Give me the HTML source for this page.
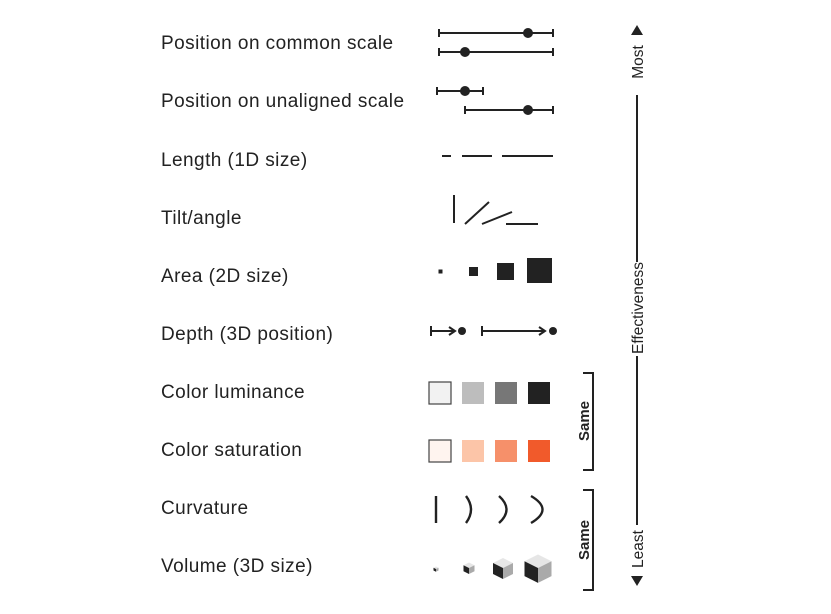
<!DOCTYPE html>
<html><head><meta charset="utf-8"><style>body{margin:0;background:#fff}svg{display:block}text{font-family:"Liberation Sans",sans-serif;fill:#222}</style></head>
<body>
<svg width="831" height="614" viewBox="0 0 831 614">
<g font-size="19" letter-spacing="0.45">
<text x="161" y="49">Position on common scale</text>
<text x="161" y="107">Position on unaligned scale</text>
<text x="161" y="166">Length (1D size)</text>
<text x="161" y="224">Tilt/angle</text>
<text x="161" y="282">Area (2D size)</text>
<text x="161" y="340">Depth (3D position)</text>
<text x="161" y="398">Color luminance</text>
<text x="161" y="456">Color saturation</text>
<text x="161" y="514">Curvature</text>
<text x="161" y="572">Volume (3D size)</text>
</g>
<g stroke="#222" stroke-width="2" fill="#222">
<line x1="439" y1="33" x2="553" y2="33"/><line x1="439" y1="29" x2="439" y2="37"/><line x1="553" y1="29" x2="553" y2="37"/><circle cx="528" cy="33" r="4"/>
<line x1="439" y1="52" x2="553" y2="52"/><line x1="439" y1="48" x2="439" y2="56"/><line x1="553" y1="48" x2="553" y2="56"/><circle cx="465" cy="52" r="4"/>
<line x1="437" y1="91" x2="483" y2="91"/><line x1="437" y1="87" x2="437" y2="95"/><line x1="483" y1="87" x2="483" y2="95"/><circle cx="465" cy="91" r="4"/>
<line x1="465" y1="110" x2="553" y2="110"/><line x1="465" y1="106" x2="465" y2="114"/><line x1="553" y1="106" x2="553" y2="114"/><circle cx="528" cy="110" r="4"/>
</g>
<g stroke="#222" stroke-width="2">
<line x1="442" y1="156" x2="451" y2="156"/><line x1="462" y1="156" x2="492" y2="156"/><line x1="502" y1="156" x2="553" y2="156"/>
</g>
<g stroke="#222" stroke-width="2">
<line x1="454" y1="195" x2="454" y2="223"/><line x1="465" y1="224" x2="489" y2="202"/><line x1="482" y1="224" x2="512" y2="212"/><line x1="506" y1="224" x2="538" y2="224"/>
</g>
<g fill="#222">
<rect x="438.5" y="269.5" width="4" height="4"/><rect x="469" y="267" width="9" height="9"/><rect x="497" y="263" width="17" height="17"/><rect x="527" y="258" width="25" height="25"/>
</g>
<g stroke="#222" stroke-width="2" fill="none">
<line x1="431" y1="326" x2="431" y2="336"/><line x1="431" y1="331" x2="454" y2="331"/><polyline points="449,327 455,331 449,335"/>
<line x1="482" y1="326" x2="482" y2="336"/><line x1="482" y1="331" x2="545" y2="331"/><polyline points="539,327 545,331 539,335"/>
<circle cx="462" cy="331" r="4" fill="#222" stroke="none"/><circle cx="553" cy="331" r="4" fill="#222" stroke="none"/>
</g>
<g>
<rect x="429" y="382" width="22" height="22" fill="#f2f2f2" stroke="#444" stroke-width="1.2"/>
<rect x="462" y="382" width="22" height="22" fill="#bdbdbd"/><rect x="495" y="382" width="22" height="22" fill="#777"/><rect x="528" y="382" width="22" height="22" fill="#222"/>
</g>
<g>
<rect x="429" y="440" width="22" height="22" fill="#fff4ef" stroke="#444" stroke-width="1.2"/>
<rect x="462" y="440" width="22" height="22" fill="#fcc5a8"/><rect x="495" y="440" width="22" height="22" fill="#f6906a"/><rect x="528" y="440" width="22" height="22" fill="#f15a2b"/>
</g>
<g stroke="#222" stroke-width="2.4" fill="none">
<line x1="436" y1="496" x2="436" y2="523"/>
<path d="M466,496 Q476,509.5 466,523"/><path d="M499,496 Q514,509.5 499,523"/><path d="M531,496 Q554,509.5 531,523"/>
</g>
<g>
<g transform="translate(436,569) scale(0.25)"><polygon points="0,-10 10,-5 0,0 -10,-5" fill="#e6e6e6"/><polygon points="-10,-5 0,0 0,11 -10,6" fill="#222"/><polygon points="10,-5 0,0 0,11 10,6" fill="#aaa"/></g>
<g transform="translate(469,568) scale(0.55)"><polygon points="0,-10 10,-5 0,0 -10,-5" fill="#e6e6e6"/><polygon points="-10,-5 0,0 0,11 -10,6" fill="#222"/><polygon points="10,-5 0,0 0,11 10,6" fill="#aaa"/></g>
<g transform="translate(503,568) scale(1.0)"><polygon points="0,-10 10,-5 0,0 -10,-5" fill="#e6e6e6"/><polygon points="-10,-5 0,0 0,11 -10,6" fill="#222"/><polygon points="10,-5 0,0 0,11 10,6" fill="#aaa"/></g>
<g transform="translate(538,568) scale(1.35)"><polygon points="0,-10 10,-5 0,0 -10,-5" fill="#e6e6e6"/><polygon points="-10,-5 0,0 0,11 -10,6" fill="#222"/><polygon points="10,-5 0,0 0,11 10,6" fill="#aaa"/></g>
</g>
<g stroke="#222" stroke-width="2" fill="none">
<polyline points="583,373 593,373 593,470 583,470"/>
<polyline points="583,490 593,490 593,590 583,590"/>
</g>
<text transform="translate(589,421) rotate(-90)" text-anchor="middle" font-size="15" font-weight="bold">Same</text>
<text transform="translate(589,540) rotate(-90)" text-anchor="middle" font-size="15" font-weight="bold">Same</text>
<g>
<polygon points="637,25 643,35 631,35" fill="#222"/>
<polygon points="637,586 643,576 631,576" fill="#222"/>
<line x1="637" y1="95" x2="637" y2="262" stroke="#222" stroke-width="2"/>
<line x1="637" y1="356" x2="637" y2="525" stroke="#222" stroke-width="2"/>
<text transform="translate(643,62) rotate(-90)" text-anchor="middle" font-size="15.5">Most</text>
<text transform="translate(643,308) rotate(-90)" text-anchor="middle" font-size="15.5">Effectiveness</text>
<text transform="translate(643,549) rotate(-90)" text-anchor="middle" font-size="15.5">Least</text>
</g>
</svg>
</body></html>
